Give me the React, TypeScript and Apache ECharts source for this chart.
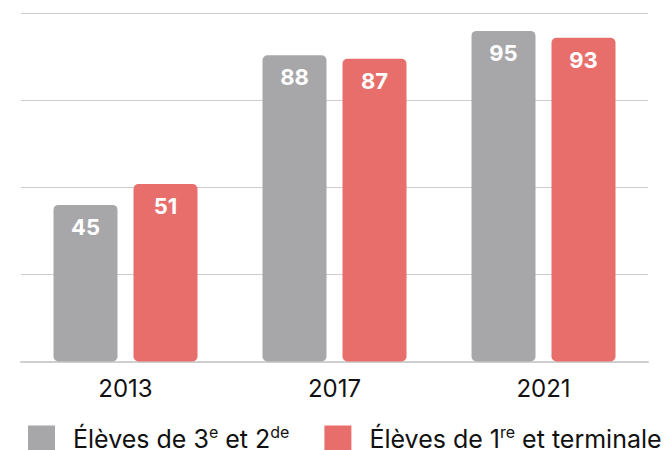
import React, { useEffect, useRef } from "react";
import * as echarts from "echarts";

const categories = ["2013", "2017", "2021"];
const series1Name = "Élèves de 3{sup|e} et 2{sup|de}";
const series2Name = "Élèves de 1{sup|re} et terminale";
const series1Values = [45, 88, 95];
const series2Values = [51, 87, 93];

export default function App() {
  const ref = useRef<HTMLDivElement>(null);
  useEffect(() => {
    const chart = echarts.init(ref.current!, null, { renderer: "svg" });
    const font = "Inter, 'Noto Sans', sans-serif";
    const label = {
      show: true,
      position: "insideTop",
      distance: 11,
      color: "#ffffff",
      fontSize: 22,
      fontWeight: "bold",
      fontFamily: font,
    };
    chart.setOption({
      animation: false,
      grid: { left: 21, right: 19, top: 13.5, bottom: 88.5, containLabel: false },
      legend: {
        left: 28,
        top: 424,
        padding: 0,
        itemWidth: 27,
        itemHeight: 27,
        itemGap: 35,
        icon: "rect",
        textStyle: {
          fontFamily: font,
          fontSize: 25,
          color: "#111111",
          padding: [0, 0, 0, 13],
          rich: {
            sup: { fontSize: 16, fontFamily: font, color: "#111111", padding: [0, 0, 14, 0] },
          },
        },
        data: [series1Name, series2Name],
      },
      xAxis: {
        type: "category",
        data: categories,
        axisTick: { show: false },
        axisLine: { lineStyle: { color: "#cfcfcf", width: 2 } },
        axisLabel: { fontFamily: font, fontSize: 24, color: "#111111", margin: 15 },
      },
      yAxis: {
        type: "value",
        min: 0,
        max: 100,
        interval: 25,
        axisLabel: { show: false },
        axisLine: { show: false },
        axisTick: { show: false },
        splitLine: { lineStyle: { color: "#cccccc", width: 1 } },
      },
      series: [
        {
          name: series1Name,
          type: "bar",
          data: series1Values,
          barWidth: 64,
          barGap: "25%",
          itemStyle: { color: "#a7a7a9", borderRadius: 5 },
          label,
        },
        {
          name: series2Name,
          type: "bar",
          data: series2Values,
          barWidth: 64,
          itemStyle: { color: "#e86e6c", borderRadius: 5 },
          label,
        },
      ],
    });
    return () => chart.dispose();
  }, []);
  return <div ref={ref} style={{ width: 667, height: 450, position: "absolute", left: 0, top: 0 }} />;
}
